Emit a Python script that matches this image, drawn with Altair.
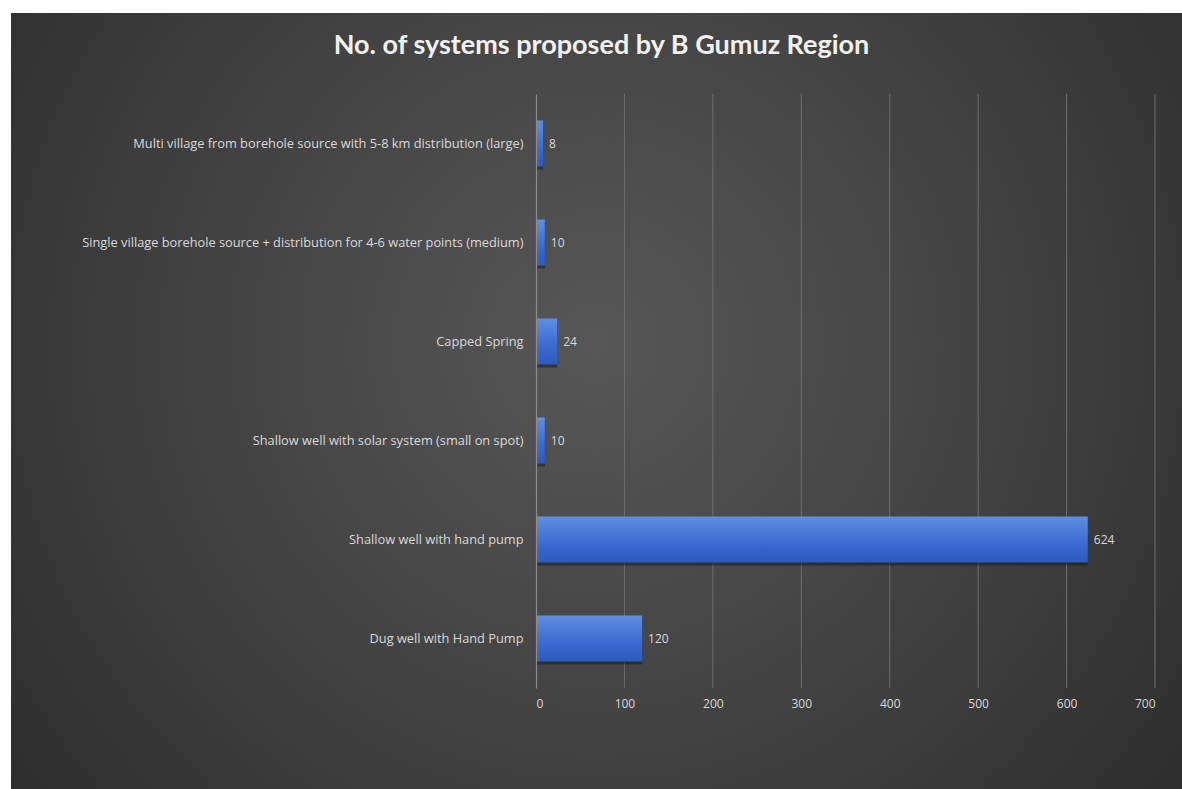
import altair as alt
import pandas as pd

categories = [
    "Multi village from borehole source with 5-8 km distribution (large)",
    "Single village borehole source + distribution for  4-6 water points (medium)",
    "Capped Spring",
    "Shallow well with solar system (small on spot)",
    "Shallow well with hand pump",
    "Dug well with Hand Pump",
]
values = [8, 10, 24, 10, 624, 120]
x_ticks = [0, 100, 200, 300, 400, 500, 600, 700]
title_text = "No. of systems proposed by B Gumuz Region"

df = pd.DataFrame({"system": categories, "count": values})
grid_df = pd.DataFrame({"count": x_ticks[1:]})

W, H = 619, 594
PAD = {"left": 536, "right": 27, "top": 94, "bottom": 101}
FONT = "Open Sans"

ycat = alt.Y(
    "system:N",
    sort=categories,
    scale=alt.Scale(paddingInner=0.535, paddingOuter=0.2675),
    axis=alt.Axis(
        title=None, ticks=False, domain=True, domainColor="#8c8c8c", domainWidth=1.2,
        labelColor="#d9d9d9", labelFont=FONT, labelFontSize=12.8, labelPadding=13,
        labelLimit=520, grid=False, zindex=1,
    ),
)
xq = alt.X(
    "count:Q",
    scale=alt.Scale(domain=[0, 700], nice=False),
    axis=alt.Axis(
        title=None, values=x_ticks, ticks=False, domain=False, grid=False,
        labelColor="#d9d9d9", labelFont=FONT, labelFontSize=12, labelPadding=10,
        zindex=1,
    ),
)

bg = alt.Chart(pd.DataFrame({"k": [0]})).mark_rect(
    fill=alt.Gradient(
        gradient="radial",
        stops=[alt.GradientStop(color="#575757", offset=0),
               alt.GradientStop(color="#3c3c3c", offset=0.6),
               alt.GradientStop(color="#272727", offset=1)],
        x1=0.5, y1=0.45, r1=0, x2=0.5, y2=0.45, r2=0.72,
    ),
).encode(
    x=alt.value(-525), x2=alt.value(646), y=alt.value(-81), y2=alt.value(695)
)

grid = alt.Chart(grid_df).mark_rule(color="#6e6e6e", strokeWidth=1).encode(x=xq)

shadow = alt.Chart(df).mark_bar(color="#101010", opacity=0.45, yOffset=3).encode(
    y=ycat, x=xq
)

bars = alt.Chart(df).mark_bar(
    fill=alt.Gradient(
        gradient="linear",
        stops=[alt.GradientStop(color="#5f8ee2", offset=0),
               alt.GradientStop(color="#3a6ad0", offset=0.6),
               alt.GradientStop(color="#2d5bbd", offset=1)],
        x1=0, y1=0, x2=0, y2=1,
    )
).encode(y=ycat, x=xq)

labels = alt.Chart(df).mark_text(
    align="left", baseline="middle", dx=6, color="#d9d9d9", font=FONT, fontSize=12
).encode(y=ycat, x=xq, text="count:Q")

chart = alt.layer(bg, grid, shadow, bars, labels).properties(
    width=W, height=H,
    title=alt.TitleParams(
        title_text, anchor="middle", font="Lato", fontSize=27, fontWeight="bold",
        color="#f2f2f2", dx=-244, offset=-47,
    ),
    autosize=alt.AutoSizeParams(type="none"),
    padding=PAD,
    background="#ffffff",
).configure_view(stroke=None)

chart.save("out.html", embed_options={"renderer": "svg", "actions": False})
